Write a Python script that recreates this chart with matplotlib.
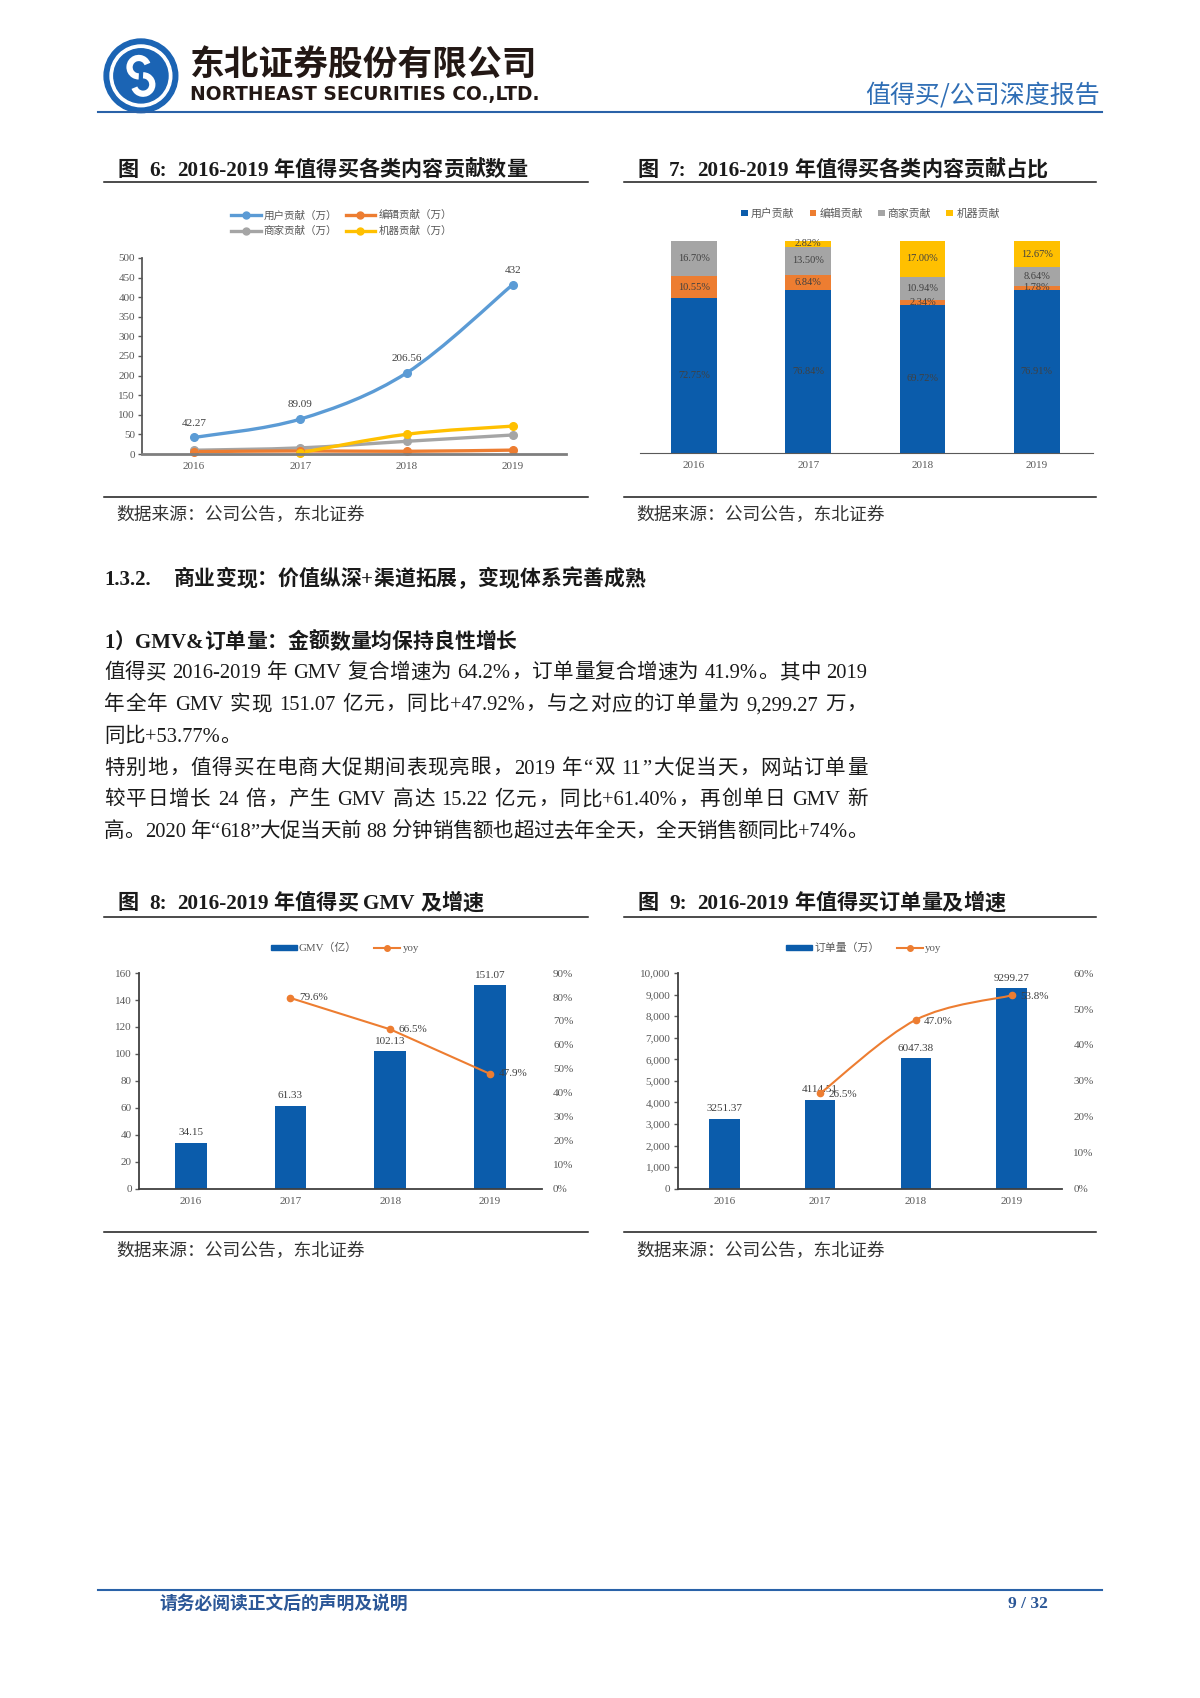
import re
import numpy as np
import matplotlib
matplotlib.use('Agg')
import matplotlib.pyplot as plt
from matplotlib.patches import Circle, Arc, PathPatch, Patch
from matplotlib.path import Path
from matplotlib.lines import Line2D
from matplotlib.ticker import FuncFormatter

SERIF = ['Liberation Serif', 'Noto Sans CJK SC']
SANS_CJK = ['Noto Sans CJK SC', 'DejaVu Sans']
plt.rcParams['font.family'] = SERIF

# 版面坐标
W, H = 1107, 1567

years = ['2016', '2017', '2018', '2019']

# 图6：各类内容贡献数量（万）
user_cnt = [42.27, 89.09, 206.56, 432]
editor_cnt = [6.13, 7.93, 6.93, 10.00]
merchant_cnt = [9.70, 15.65, 32.41, 48.52]
machine_cnt = [np.nan, 3.27, 50.37, 71.17]

# 图7：各类内容贡献占比（%）
user_pct = [72.75, 76.84, 69.72, 76.91]
editor_pct = [10.55, 6.84, 2.34, 1.78]
merchant_pct = [16.70, 13.50, 10.94, 8.64]
machine_pct = [0, 2.82, 17.00, 12.67]

# 图8：GMV（亿）及增速
gmv = [34.15, 61.33, 102.13, 151.07]
gmv_yoy = [np.nan, 79.6, 66.5, 47.9]

# 图9：订单量（万）及增速
orders = [3251.37, 4114.51, 6047.38, 9299.27]
orders_yoy = [np.nan, 26.5, 47.0, 53.8]

body_lines = [
    ('值得买 2016-2019 年 GMV 复合增速为 64.2%，订单量复合增速为 41.9%。其中 2019', True),
    ('年全年 GMV 实现 151.07 亿元，同比+47.92%，与之对应的订单量为 9,299.27 万，', True),
    ('同比+53.77%。', False),
    ('特别地，值得买在电商大促期间表现亮眼，2019 年“双 11”大促当天，网站订单量', True),
    ('较平日增长 24 倍，产生 GMV 高达 15.22 亿元，同比+61.40%，再创单日 GMV 新', True),
    ('高。2020 年“618”大促当天前 88 分钟销售额也超过去年全天，全天销售额同比+74%。', True),
]

C_LINE_BLUE = '#5B9BD5'
C_ORANGE = '#ED7D31'
C_GRAY = '#A5A5A5'
C_YELLOW = '#FFC000'
C_BAR = '#0B5CAB'
C_TICK = '#595959'
C_LABEL = '#404040'
C_HEAD = '#2A62A8'

fig = plt.figure(figsize=(12, 16.98), dpi=100)
bg = fig.add_axes([0, 0, 1, 1])
bg.set_xlim(0, W)
bg.set_ylim(H, 0)
bg.axis('off')
renderer = fig.canvas.get_renderer()
PX = W / 1200.0


def add_ax(x0, y0, x1, y1):
    return fig.add_axes([x0 / W, 1 - y1 / H, (x1 - x0) / W, (y1 - y0) / H])


def text_line(x0, y, s, size, x1=None, weight='normal', color='#1a1a1a', family=SERIF):
    # 逐字排版，x1给定时两端对齐
    tokens = re.findall(r' +|[\x21-\x7e]+|.', s)
    arts, widths = [], []
    space_w = 0.25 * size * 100 / 72 * PX
    for t in tokens:
        if t.startswith(' '):
            arts.append(None)
            widths.append(space_w * len(t))
        else:
            a = bg.text(0, y, t, fontsize=size, fontweight=weight, color=color,
                        family=family, ha='left', va='baseline')
            arts.append(a)
            widths.append(a.get_window_extent(renderer).width * PX)
    gap = 0
    if x1 is not None and len(tokens) > 1:
        gap = (x1 - x0 - sum(widths)) / (len(tokens) - 1)
    x = x0
    for a, w in zip(arts, widths):
        if a is not None:
            a.set_x(x)
        x += w + gap


def smooth_path(xs, ys):
    pts = [(a, b) for a, b in zip(xs, ys) if not np.isnan(b)]
    verts = [pts[0]]
    codes = [Path.MOVETO]
    n = len(pts)
    for i in range(n - 1):
        p0 = pts[max(i - 1, 0)]
        p1 = pts[i]
        p2 = pts[i + 1]
        p3 = pts[min(i + 2, n - 1)]
        c1 = (p1[0] + (p2[0] - p0[0]) / 6, p1[1] + (p2[1] - p0[1]) / 6)
        c2 = (p2[0] - (p3[0] - p1[0]) / 6, p2[1] - (p3[1] - p1[1]) / 6)
        verts += [c1, c2, p2]
        codes += [Path.CURVE4] * 3
    return Path(verts, codes)


def style_axis(ax):
    for s in ['top', 'right']:
        ax.spines[s].set_visible(False)
    ax.tick_params(axis='both', labelsize=8, labelcolor=C_TICK, color=C_TICK)
    ax.tick_params(axis='x', length=0, pad=6)
    ax.tick_params(axis='y', length=3, width=1, pad=2)


# ===== 页眉 =====
cx, cy = 130, 70
bg.add_patch(Circle((cx, cy), 34, color='#1B64B4'))
bg.add_patch(Circle((cx, cy), 28.5, color='white'))
bg.add_patch(Circle((cx, cy), 25, color='#1B64B4'))
bg.add_patch(Arc((cx - 2, cy - 8), 17, 17, theta1=90, theta2=340, color='white', lw=4.5))
bg.add_patch(Arc((cx + 2, cy + 8), 17, 17, theta1=-90, theta2=160, color='white', lw=4.5))
bg.text(175, 60, '东北证券股份有限公司', fontsize=25, fontweight='heavy',
        family=SANS_CJK, color='#231815', ha='left', va='center')
bg.text(175, 87, 'NORTHEAST SECURITIES CO.,LTD.', fontsize=13.4, fontweight='bold',
        family='DejaVu Sans', color='#231815', ha='left', va='center')
bg.text(1015, 88, '值得买/公司深度报告', fontsize=18, family=SANS_CJK,
        color='#2F6EB5', ha='right', va='center')
bg.plot([90, 1017], [103, 103], color=C_HEAD, lw=1.5)

# ===== 图表标题与分隔线 =====
for x0, y, title in [
        (108, 156, '图  6:  2016-2019 年值得买各类内容贡献数量'),
        (588, 156, '图  7:  2016-2019 年值得买各类内容贡献占比'),
        (108, 833, '图  8:  2016-2019 年值得买 GMV 及增速'),
        (588, 833, '图  9:  2016-2019 年值得买订单量及增速')]:
    text_line(x0, y + 6, title, 15.2, weight='bold')

for xa, xb in [(96, 542), (576, 1011)]:
    for y in [168, 459, 846, 1137]:
        bg.plot([xa, xb], [y, y], color='#1a1a1a', lw=1.1)

for xs in [107, 587]:
    for y in [475, 1154]:
        bg.text(xs, y, '数据来源：公司公告，东北证券', fontsize=12.8, family=SANS_CJK,
                color='#333333', ha='left', va='center')

# ===== 正文 =====
text_line(96, 540, '1.3.2.', 15, weight='bold')
text_line(160, 540, '商业变现：价值纵深+渠道拓展，变现体系完善成熟', 15, weight='bold')
text_line(96, 598, '1）GMV&订单量：金额数量均保持良性增长', 15, weight='bold')
for k, (s, just) in enumerate(body_lines):
    y = 626 + k * 29.3
    text_line(96, y, s, 14.8, x1=800 if just else None)

# ===== 页脚 =====
bg.plot([90, 1017], [1467, 1467], color=C_HEAD, lw=1.5)
bg.text(147, 1480, '请务必阅读正文后的声明及说明', fontsize=12.8, fontweight='bold',
        family=SANS_CJK, color='#2B5797', ha='left', va='center')
bg.text(967, 1480, '9 / 32', fontsize=12.5, fontweight='bold', color='#2B5797',
        ha='right', va='center')

x = np.arange(4)

# ===== 图6 =====
ax6 = add_ax(131, 238, 522, 419)
series6 = [
    (merchant_cnt, C_GRAY, '商家贡献（万）'),
    (editor_cnt, C_ORANGE, '编辑贡献（万）'),
    (machine_cnt, C_YELLOW, '机器贡献（万）'),
    (user_cnt, C_LINE_BLUE, '用户贡献（万）'),
]
for vals, color, name in series6:
    ax6.add_patch(PathPatch(smooth_path(x, vals), fill=False, ec=color, lw=2.4,
                            capstyle='round', clip_on=False))
    ax6.plot(x, vals, 'o', color=color, ms=5.5, clip_on=False)
for i, v in enumerate(user_cnt):
    ax6.annotate(f'{v:g}', (i, v), xytext=(0, 7), textcoords='offset points',
                 ha='center', va='bottom', fontsize=8, color=C_LABEL)
ax6.set_xlim(-0.49, 3.5)
ax6.set_ylim(0, 500)
ax6.set_yticks(np.arange(0, 501, 50))
ax6.set_xticks(x, years)
style_axis(ax6)
ax6.spines['left'].set_color(C_TICK)
ax6.spines['left'].set_linewidth(1.3)
ax6.spines['bottom'].set_color('#7F7F7F')
ax6.spines['bottom'].set_linewidth(2)
h6 = [Line2D([], [], color=c, lw=2.4, marker='o', ms=5) for _, c, _ in
      [series6[3], series6[0], series6[1], series6[2]]]
l6 = ['用户贡献（万）', '商家贡献（万）', '编辑贡献（万）', '机器贡献（万）']
ax6.legend(h6, l6, loc='center', bbox_to_anchor=(315 / W, 1 - 206 / H),
           bbox_transform=fig.transFigure, ncol=2, frameon=False,
           labelcolor=C_TICK, handlelength=2.8, columnspacing=0.8,
           handletextpad=0.3, labelspacing=0.55, prop={'family': SANS_CJK, 'size': 7.6})

# ===== 图7 =====
ax7 = add_ax(590, 222, 1008, 418)
bottom = np.zeros(4)
series7 = [
    (user_pct, C_BAR, '用户贡献'),
    (editor_pct, C_ORANGE, '编辑贡献'),
    (merchant_pct, C_GRAY, '商家贡献'),
    (machine_pct, C_YELLOW, '机器贡献'),
]
for vals, color, name in series7:
    vals = np.array(vals)
    ax7.bar(x, vals, 0.4, bottom=bottom, color=color, label=name)
    for i, v in enumerate(vals):
        if v > 0:
            ax7.text(i, bottom[i] + v / 2, f'{v:.2f}%', ha='center', va='center',
                     fontsize=7.5, color=C_LABEL)
    bottom += vals
ax7.set_xlim(-0.476, 3.49)
ax7.set_ylim(0, 100)
ax7.set_xticks(x, years)
ax7.set_yticks([])
for s in ['top', 'right', 'left']:
    ax7.spines[s].set_visible(False)
ax7.spines['bottom'].set_color(C_TICK)
ax7.tick_params(axis='x', length=0, pad=6, labelsize=8, labelcolor=C_TICK)
ax7.legend(loc='center', bbox_to_anchor=(803 / W, 1 - 197 / H),
           bbox_transform=fig.transFigure, ncol=4, frameon=False,
           handlelength=0.6, handleheight=0.6, handletextpad=0.3, columnspacing=1.4,
           labelcolor=C_TICK, prop={'family': SANS_CJK, 'size': 7.8})

# ===== 图8 =====
ax8 = add_ax(128, 898, 500, 1097)
ax8.bar(x, gmv, 0.32, color=C_BAR)
for i, v in enumerate(gmv):
    ax8.annotate(f'{v:.2f}', (i, v), xytext=(0, 4), textcoords='offset points',
                 ha='center', va='bottom', fontsize=8, color=C_LABEL)
ax8.set_xlim(-0.52, 3.52)
ax8.set_ylim(0, 160)
ax8.set_yticks(np.arange(0, 161, 20))
ax8.set_xticks(x, years)
style_axis(ax8)
ax8.spines['left'].set_color('#404040')
ax8.spines['left'].set_linewidth(1.3)
ax8.spines['bottom'].set_color('#404040')
ax8.spines['bottom'].set_linewidth(1.3)
ax8r = ax8.twinx()
ax8r.plot(x, gmv_yoy, '-o', color=C_ORANGE, lw=1.5, ms=4.5)
for i, v in enumerate(gmv_yoy):
    if not np.isnan(v):
        ax8r.annotate(f'{v:.1f}%', (i, v), xytext=(6, 0), textcoords='offset points',
                      ha='left', va='center', fontsize=8, color=C_LABEL)
ax8r.set_ylim(0, 90)
ax8r.set_yticks(np.arange(0, 91, 10))
ax8r.yaxis.set_major_formatter(FuncFormatter(lambda v, p: f'{v:.0f}%'))
for s in ax8r.spines.values():
    s.set_visible(False)
ax8r.tick_params(axis='y', length=0, pad=8, labelsize=8, labelcolor=C_TICK)
h8 = [Patch(color=C_BAR), Line2D([], [], color=C_ORANGE, lw=1.5, marker='o', ms=4)]
ax8r.legend(h8, ['GMV（亿）', 'yoy'], loc='center', bbox_to_anchor=(318 / W, 1 - 875 / H),
            bbox_transform=fig.transFigure, ncol=2, frameon=False,
            handlelength=2.4, handleheight=0.45, handletextpad=0.2, columnspacing=1.6,
            labelcolor=C_TICK, prop={'family': SERIF, 'size': 7.8})

# ===== 图9 =====
ax9 = add_ax(625, 898, 980, 1097)
ax9.bar(x, orders, 0.32, color=C_BAR)
for i, v in enumerate(orders):
    ax9.annotate(f'{v:.2f}', (i, v), xytext=(0, 4), textcoords='offset points',
                 ha='center', va='bottom', fontsize=8, color=C_LABEL)
ax9.set_xlim(-0.49, 3.53)
ax9.set_ylim(0, 10000)
ax9.set_yticks(np.arange(0, 10001, 1000))
ax9.yaxis.set_major_formatter(FuncFormatter(lambda v, p: f'{v:,.0f}'))
ax9.set_xticks(x, years)
style_axis(ax9)
ax9.spines['left'].set_color('#404040')
ax9.spines['left'].set_linewidth(1.3)
ax9.spines['bottom'].set_color('#404040')
ax9.spines['bottom'].set_linewidth(1.3)
ax9r = ax9.twinx()
ax9r.add_patch(PathPatch(smooth_path(x, orders_yoy), fill=False, ec=C_ORANGE, lw=1.5))
ax9r.plot(x, orders_yoy, 'o', color=C_ORANGE, ms=4.5)
for i, v in enumerate(orders_yoy):
    if not np.isnan(v):
        ax9r.annotate(f'{v:.1f}%', (i, v), xytext=(6, -1), textcoords='offset points',
                      ha='left', va='center', fontsize=8, color=C_LABEL)
ax9r.set_ylim(0, 60)
ax9r.set_yticks(np.arange(0, 61, 10))
ax9r.yaxis.set_major_formatter(FuncFormatter(lambda v, p: f'{v:.0f}%'))
for s in ax9r.spines.values():
    s.set_visible(False)
ax9r.tick_params(axis='y', length=0, pad=8, labelsize=8, labelcolor=C_TICK)
h9 = [Patch(color=C_BAR), Line2D([], [], color=C_ORANGE, lw=1.5, marker='o', ms=4)]
ax9r.legend(h9, ['订单量（万）', 'yoy'], loc='center', bbox_to_anchor=(797 / W, 1 - 875 / H),
            bbox_transform=fig.transFigure, ncol=2, frameon=False,
            handlelength=2.4, handleheight=0.45, handletextpad=0.2, columnspacing=1.6,
            labelcolor=C_TICK, prop={'family': SERIF, 'size': 7.8})

fig.savefig('out.png', dpi=100, facecolor='white')
